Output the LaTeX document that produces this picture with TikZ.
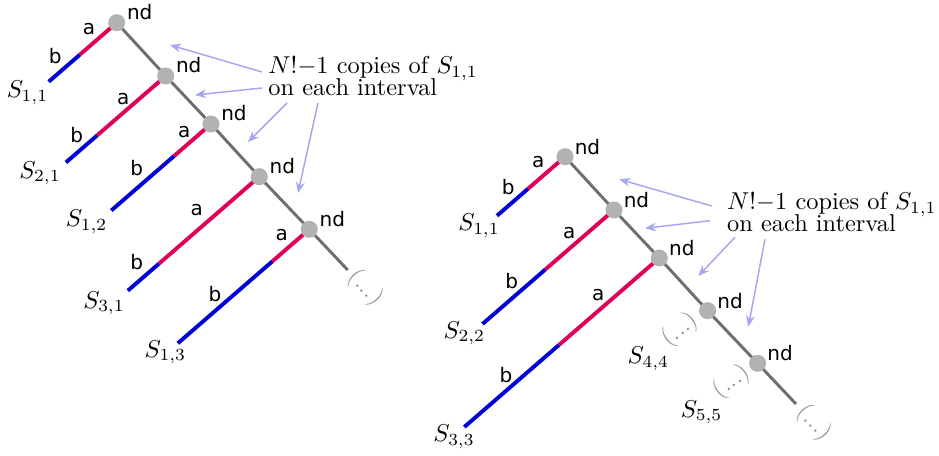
\documentclass[tikz,border=0pt]{standalone}
\usepackage{fontspec}
\newfontfamily\lblfont{DejaVu Sans}
\usetikzlibrary{arrows.meta,calc}
\definecolor{redseg}{RGB}{225,0,88}
\definecolor{blueseg}{RGB}{0,0,215}
\definecolor{spinecol}{RGB}{110,110,110}
\definecolor{arrcol}{RGB}{165,165,240}
\begin{document}
\begin{tikzpicture}[x=0.41pt,y=-0.41pt,
  spine/.style={draw=spinecol,line width=1.2pt},
  redpart/.style={draw=redseg,line width=1.6pt},
  bluepart/.style={draw=blueseg,line width=1.6pt},
  dot/.style={circle,fill=gray!60,minimum size=7pt,inner sep=0pt},
  lbl/.style={font=\lblfont\fontsize{8.2}{9}\selectfont,inner sep=0pt},
  slbl/.style={inner sep=0pt},
  etc/.style={text=black!40,inner sep=0pt},
  note/.style={align=left,inner sep=0pt,anchor=west},
  arr/.style={draw=arrcol,line width=0.6pt,-{Stealth[length=4.5pt,width=3.6pt]}}]
\useasboundingbox (0,0) rectangle (939,456);

% ---------------- left tree ----------------
\coordinate (n1) at (116.7,22.7);
\coordinate (n2) at (165.7,76);
\coordinate (n3) at (211,124);
\coordinate (n4) at (259.3,176.7);
\coordinate (n5) at (309.3,229.3);
\coordinate (ne) at (347.7,270);
\draw[spine] (n1) -- (n2) -- (n3) -- (n4) -- (n5) -- (ne);

\coordinate (p11) at (79.7,54.8);   \coordinate (q11) at (48.7,81.7);
\coordinate (p21) at (96.9,135.6);  \coordinate (q21) at (65.9,162.5);
\coordinate (p12) at (174,156.1);   \coordinate (q12) at (111.3,210.5);
\coordinate (p31) at (158.8,263.8); \coordinate (q31) at (127.8,290.7);
\coordinate (p13) at (272.3,261.4); \coordinate (q13) at (177.8,343.3);
\draw[redpart] (n1) -- (p11); \draw[bluepart] (p11) -- (q11);
\draw[redpart] (n2) -- (p21); \draw[bluepart] (p21) -- (q21);
\draw[redpart] (n3) -- (p12); \draw[bluepart] (p12) -- (q12);
\draw[redpart] (n4) -- (p31); \draw[bluepart] (p31) -- (q31);
\draw[redpart] (n5) -- (p13); \draw[bluepart] (p13) -- (q13);

\foreach \i in {1,...,5}{
  \node[dot] (d\i) at (n\i) {};
  \node[lbl] (nd\i) at ($(n\i)+(23,-10.5)$) {nd};
}

\node[lbl] (a11) at (89,29) {a};       \node[lbl] (b11) at (55.3,56) {b};
\node[lbl] (a21) at (123.3,99) {a};    \node[lbl] (b21) at (76.7,135) {b};
\node[lbl] (a12) at (184.3,131.7) {a}; \node[lbl] (b12) at (136.7,168.3) {b};
\node[lbl] (a31) at (196.7,210) {a};   \node[lbl] (b31) at (136.7,261.7) {b};
\node[lbl] (a13) at (281.7,235) {a};   \node[lbl] (b13) at (215,294.3) {b};

\node[slbl] (s11) at (27.5,92.7) {$S_{1,1}$};
\node[slbl] (s21) at (40,173.3) {$S_{2,1}$};
\node[slbl] (s12) at (86.7,221.7) {$S_{1,2}$};
\node[slbl] (s31) at (104,303.3) {$S_{3,1}$};
\node[slbl] (s13) at (165.3,352.3) {$S_{1,3}$};

\node[etc,rotate=-47] (etcL) at (365.7,288) {(...)};

\node[note] (noteL) at (268,76.5) {$N!{-}1$ copies of $S_{1,1}$\\[-3pt]on each interval};
\coordinate (la1s) at (262,72);  \coordinate (la1e) at (170,45);
\coordinate (la2s) at (262,88);  \coordinate (la2e) at (195,95);
\coordinate (la3s) at (287,103); \coordinate (la3e) at (248,142);
\coordinate (la4s) at (318,103); \coordinate (la4e) at (298,193);
\foreach \k in {1,...,4}{ \draw[arr] (la\k s) -- (la\k e); }

% ---------------- right tree ----------------
\coordinate (m1) at (565,156.7);
\coordinate (m2) at (614,210);
\coordinate (m3) at (659.3,258);
\coordinate (m4) at (707.6,310.7);
\coordinate (m5) at (757.6,363.3);
\coordinate (me) at (796,404);
\draw[spine] (m1) -- (m2) -- (m3) -- (m4) -- (m5) -- (me);

\coordinate (r11) at (528,188.8);   \coordinate (t11) at (497,215.7);
\coordinate (r22) at (545.2,269.6); \coordinate (t22) at (482.5,324);
\coordinate (r33) at (558.8,345.1); \coordinate (t33) at (464.3,427);
\draw[redpart] (m1) -- (r11); \draw[bluepart] (r11) -- (t11);
\draw[redpart] (m2) -- (r22); \draw[bluepart] (r22) -- (t22);
\draw[redpart] (m3) -- (r33); \draw[bluepart] (r33) -- (t33);

\foreach \i in {1,...,5}{
  \node[dot] (e\i) at (m\i) {};
  \node[lbl] (md\i) at ($(m\i)+(22.5,-10)$) {nd};
}

\node[lbl] (ra11) at (538.3,161.7) {a}; \node[lbl] (rb11) at (508.3,187.3) {b};
\node[lbl] (ra22) at (569.3,233.3) {a}; \node[lbl] (rb22) at (511.7,280.7) {b};
\node[lbl] (ra33) at (598.3,295) {a};   \node[lbl] (rb33) at (506,375) {b};

\node[slbl] (rs11) at (479,225.7) {$S_{1,1}$};
\node[slbl] (rs22) at (464.3,333.3) {$S_{2,2}$};
\node[slbl] (rs33) at (454,436.7) {$S_{3,3}$};
\node[slbl] (rs44) at (648.3,359) {$S_{4,4}$};
\node[slbl] (rs55) at (701.7,412.3) {$S_{5,5}$};

\node[etc,rotate=38] (etc4) at (680,330) {(...)};
\node[etc,rotate=38] (etc5) at (731.7,381.7) {(...)};
\node[etc,rotate=-47] (etcR) at (814.3,423) {(...)};

\node[note] (noteR) at (726.7,212.4) {$N!{-}1$ copies of $S_{1,1}$\\[-3pt]on each interval};
\coordinate (ra1s) at (711.7,206); \coordinate (ra1e) at (619.3,179.3);
\coordinate (ra2s) at (710,220.7); \coordinate (ra2e) at (645,228.3);
\coordinate (ra3s) at (735,237.3); \coordinate (ra3e) at (698.3,276);
\coordinate (ra4s) at (765,239.3); \coordinate (ra4e) at (748.3,326.7);
\foreach \k in {1,...,4}{ \draw[arr] (ra\k s) -- (ra\k e); }
\end{tikzpicture}
\end{document}
